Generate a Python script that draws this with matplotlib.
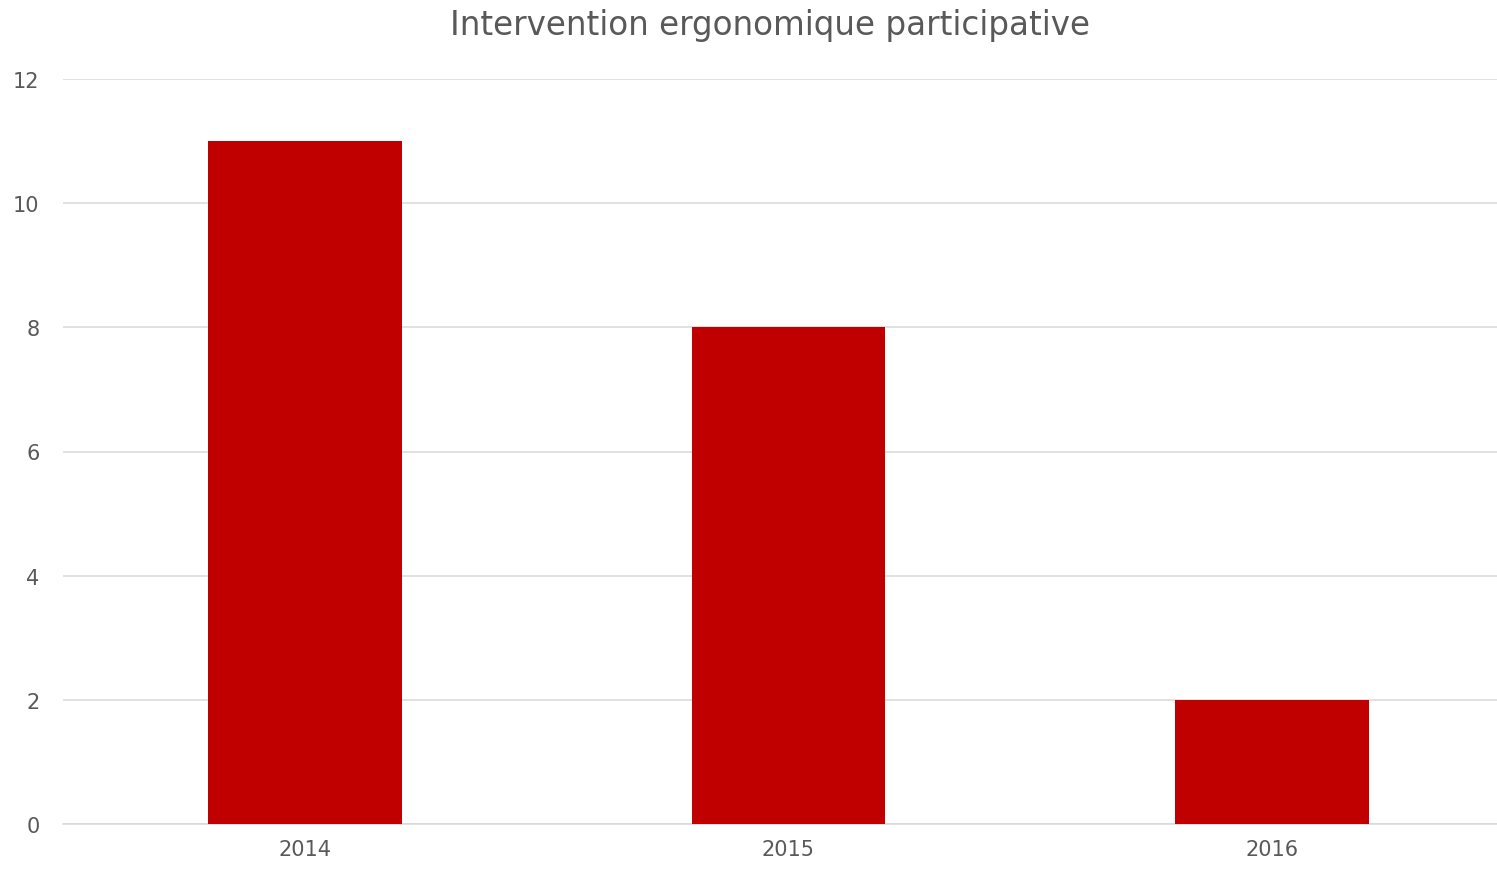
import matplotlib
matplotlib.use("Agg")
import matplotlib.pyplot as plt

categories = ["2014", "2015", "2016"]
values = [11, 8, 2]
yticks = [0, 2, 4, 6, 8, 10, 12]
title = "Intervention ergonomique participative"

W, H = 1497, 870
fig = plt.figure(figsize=(W / 100, H / 100), dpi=100)
left = 63 / W
right_px = 305 + 483.5 * 2.5
bottom = 1 - 825 / H
top = 1 - 80 / H
ax = fig.add_axes([left, bottom, (right_px - 63) / W, top - bottom])

x = list(range(len(categories)))
ax.bar(x, values, width=0.40, color="#C00000", zorder=3)
ax.set_xlim(-0.5, 2.5)
ax.set_ylim(0, 12)
ax.set_yticks(yticks)
ax.set_xticks(x)
ax.set_xticklabels(categories)
ax.grid(axis="y", color="#d9d9d9", linewidth=1.1, zorder=0)
for s in ["top", "right", "left"]:
    ax.spines[s].set_visible(False)
ax.spines["bottom"].set_color("#d9d9d9")
ax.spines["bottom"].set_linewidth(1.1)
ax.tick_params(axis="both", length=0, labelsize=15, colors="#595959")
ax.tick_params(axis="y", pad=17)
ax.tick_params(axis="x", pad=11)
fig.text(770 / W, 1 - 26 / H, title, ha="center", va="center", fontsize=23.5, color="#595959")
fig.savefig("out.png", dpi=100)
